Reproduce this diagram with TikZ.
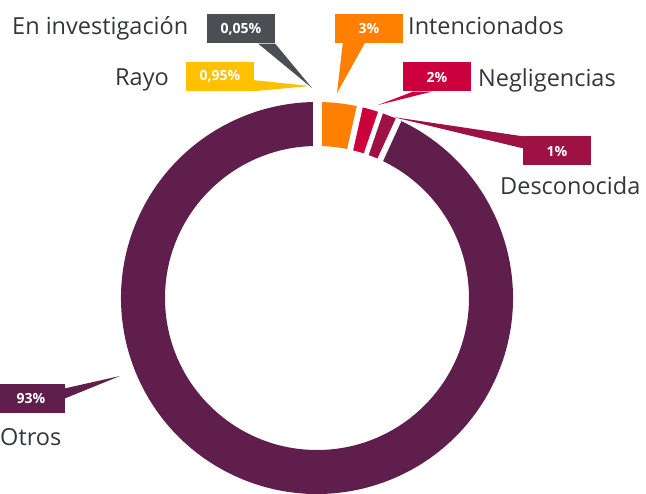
\documentclass[tikz,border=0pt]{standalone}
\usepackage{fontspec}
\setmainfont{Open Sans}
\usetikzlibrary{calc}
\definecolor{cPurple}{HTML}{5F1E4B}
\definecolor{cOrange}{HTML}{FF8000}
\definecolor{cCrimson}{HTML}{CC003D}
\definecolor{cDark}{HTML}{9E1143}
\definecolor{cYellow}{HTML}{FFC000}
\definecolor{cGray}{HTML}{4B4F54}
\definecolor{cText}{HTML}{33363D}
\def\RingOut{196}
\def\RingIn{152}
\newcommand\ringseg[3]{\fill[#1] ($(C)+(#2:\RingOut)$) arc[start angle=#2,end angle=#3,radius=\RingOut] -- ($(C)+(#3:\RingIn)$) arc[start angle=#3,end angle=#2,radius=\RingIn] -- cycle;}
\newcommand\ringgap[2]{\draw[white,line width=#2] ($(C)+(#1:{\RingIn-4})$) -- ($(C)+(#1:{\RingOut+4})$);}
\begin{document}
\begin{tikzpicture}[x=1pt,y=1pt,
  lbl/.style={anchor=base west, inner sep=0pt, text=cText, font=\fontsize{23.5}{28}\selectfont},
  callout/.style={minimum width=68pt, minimum height=29pt, inner sep=0pt, text=white, font=\fontsize{14}{16}\selectfont\bfseries},
]
\useasboundingbox (0,0) rectangle (646,-494);
\coordinate (C) at (317,-298);
% ring
\ringseg{cOrange}{90}{77.4}
\ringseg{cCrimson}{77.4}{71.1}
\ringseg{cDark}{71.1}{65.4}
\ringseg{cPurple}{65.4}{-270}
\ringgap{90}{9pt}
\ringgap{77.4}{6pt}
\ringgap{71.1}{5pt}
\ringgap{65.4}{6pt}
% callouts
\node[callout, fill=cGray] (bInv) at (241,-29) {0,05\%};
\coordinate (tInv) at (312,-88);
\fill[cGray] ([xshift=-17pt]bInv.south east) -- (bInv.south east) -- (tInv) -- cycle;

\node[callout, fill=cYellow] (bRayo) at (220,-76.5) {0,95\%};
\coordinate (tRayo) at (310,-86);
\fill[cYellow] ([yshift=11pt]bRayo.south east) -- (bRayo.south east) -- (tRayo) -- cycle;

\node[callout, fill=cOrange] (bInt) at (369,-28.5) {3\%};
\coordinate (tInt) at (337,-93);
\fill[cOrange] ([xshift=8pt]bInt.south west) -- ([xshift=30pt]bInt.south west) -- (tInt) -- cycle;

\node[callout, fill=cCrimson] (bNeg) at (437,-77) {2\%};
\coordinate (tNeg) at (378,-105);
\fill[cCrimson] ([xshift=10pt]bNeg.south west) -- ([xshift=29pt]bNeg.south west) -- (tNeg) -- cycle;

\node[callout, fill=cDark] (bDes) at (557,-151) {1\%};
\coordinate (tDes) at (393,-117);
\fill[cDark] (bDes.north west) -- ([yshift=-12pt]bDes.north west) -- (tDes) -- cycle;

\node[callout, fill=cPurple] (bOtr) at (31,-399) {93\%};
\coordinate (tOtr) at (120,-376);
\fill[cPurple] ([yshift=-4pt]bOtr.north east) -- ([yshift=-14pt]bOtr.north east) -- (tOtr) -- cycle;
% labels
\node[lbl] (lInv) at (12,-35) {En investigación};
\node[lbl] (lInt) at (408,-35) {Intencionados};
\node[lbl] (lRayo) at (115,-86) {Rayo};
\node[lbl] (lNeg) at (478,-87) {Negligencias};
\node[lbl] (lDes) at (500,-195) {Desconocida};
\node[lbl] (lOtr) at (0,-446) {Otros};
\end{tikzpicture}
\end{document}
